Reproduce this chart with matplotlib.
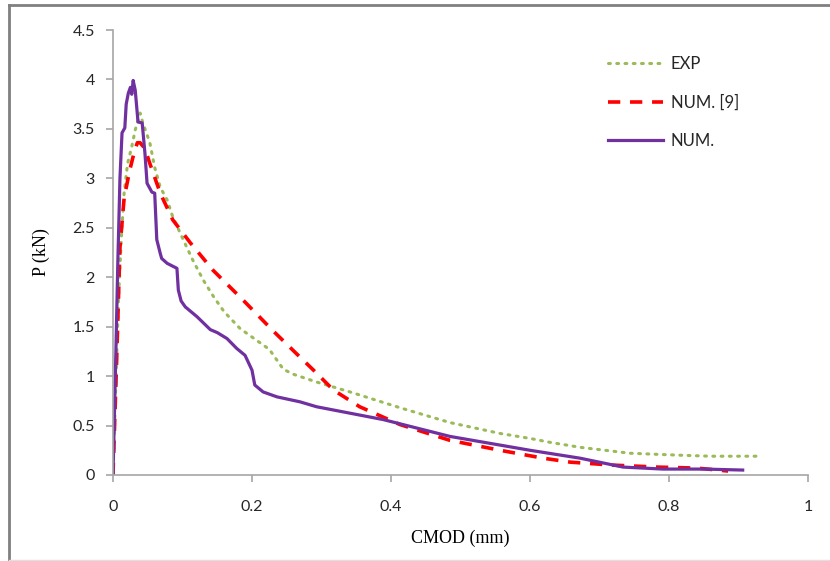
import matplotlib
matplotlib.use("Agg")
import matplotlib.pyplot as plt
from matplotlib.lines import Line2D

# EXP (green dotted)
exp_x = [0.0, 0.004, 0.008, 0.012, 0.016, 0.021, 0.027, 0.032, 0.039, 0.043, 0.053, 0.060, 0.068,
         0.078, 0.086, 0.101, 0.115, 0.130, 0.145, 0.160, 0.183, 0.205, 0.225, 0.236, 0.245, 0.259,
         0.293, 0.341, 0.413, 0.485, 0.557, 0.600, 0.629, 0.672, 0.744, 0.816, 0.860, 0.927]
exp_y = [0.0, 0.9, 1.8, 2.4, 2.85, 3.15, 3.32, 3.49, 3.66, 3.56, 3.36, 3.11, 2.91,
         2.78, 2.61, 2.38, 2.17, 1.97, 1.80, 1.65, 1.48, 1.37, 1.27, 1.16, 1.07, 1.02,
         0.94, 0.84, 0.68, 0.53, 0.42, 0.37, 0.33, 0.28, 0.22, 0.20, 0.19, 0.19]

# NUM. [9] (red dashed)
num9_x = [0.0, 0.005, 0.010, 0.016, 0.024, 0.030, 0.035, 0.039, 0.046, 0.053, 0.068, 0.086, 0.111,
          0.144, 0.187, 0.230, 0.265, 0.290, 0.317, 0.355, 0.413, 0.485, 0.557, 0.619, 0.658,
          0.719, 0.783, 0.840, 0.885]
num9_y = [0.0, 1.1, 2.3, 2.8, 3.08, 3.25, 3.36, 3.36, 3.30, 3.15, 2.85, 2.58, 2.35,
          2.07, 1.77, 1.46, 1.22, 1.05, 0.86, 0.69, 0.51, 0.35, 0.25, 0.17, 0.13,
          0.10, 0.08, 0.07, 0.04]

# NUM. (purple solid)
num_x = [0.0, 0.004, 0.007, 0.010, 0.013, 0.017, 0.019, 0.022, 0.025, 0.027, 0.029, 0.032, 0.036,
         0.042, 0.046, 0.049, 0.056, 0.060, 0.063, 0.068, 0.070, 0.078, 0.092, 0.094, 0.098,
         0.104, 0.121, 0.140, 0.150, 0.164, 0.178, 0.190, 0.200, 0.204, 0.216, 0.236, 0.269,
         0.293, 0.389, 0.485, 0.600, 0.672, 0.734, 0.791, 0.850, 0.906]
num_y = [0.0, 1.2, 2.17, 3.0, 3.46, 3.51, 3.75, 3.86, 3.92, 3.85, 3.99, 3.89, 3.57,
         3.56, 3.25, 2.95, 2.86, 2.85, 2.38, 2.24, 2.19, 2.14, 2.09, 1.87, 1.76,
         1.70, 1.60, 1.47, 1.44, 1.38, 1.28, 1.21, 1.06, 0.91, 0.84, 0.79, 0.74,
         0.69, 0.56, 0.39, 0.25, 0.17, 0.08, 0.06, 0.06, 0.05]

x_ticks = [0, 0.2, 0.4, 0.6, 0.8, 1]
x_tick_labels = ["0", "0.2", "0.4", "0.6", "0.8", "1"]
y_ticks = [0, 0.5, 1, 1.5, 2, 2.5, 3, 3.5, 4, 4.5]
y_tick_labels = ["0", "0.5", "1", "1.5", "2", "2.5", "3", "3.5", "4", "4.5"]

fig = plt.figure(figsize=(8.3, 5.61), dpi=100)
ax = fig.add_axes([113/830, 1-475/561, (808-113)/830, (475-30)/561])

ax.plot(exp_x, exp_y, color="#9BBB59", lw=2.2, linestyle=(0, (0.6, 2.1)), dash_capstyle="round", label="EXP")
ax.plot(num9_x, num9_y, color="#FF0000", lw=2.6, linestyle=(0, (3.4, 2.7)), label="NUM. [9]")
ax.plot(num_x, num_y, color="#7030A0", lw=2.3, label="NUM.")

ax.set_xlim(0, 1)
ax.set_ylim(0, 4.5)
ax.set_xticks(x_ticks)
ax.set_xticklabels(x_tick_labels)
ax.set_yticks(y_ticks)
ax.set_yticklabels(y_tick_labels)

for s in ["top", "right"]:
    ax.spines[s].set_visible(False)
for s in ["left", "bottom"]:
    ax.spines[s].set_color("#A6A6A6")
    ax.spines[s].set_linewidth(1.2)
ax.tick_params(axis="both", direction="out", length=5, width=1.2, color="#A6A6A6",
               labelsize=11.5, labelcolor="#262626")
for lab in ax.get_xticklabels() + ax.get_yticklabels():
    lab.set_family("Lato")
ax.tick_params(axis="x", pad=13)
ax.tick_params(axis="y", pad=8)

ax.set_xlabel("CMOD (mm)", family="Liberation Serif", fontsize=13, labelpad=11)
ax.set_ylabel("P (kN)", family="Liberation Serif", fontsize=13, labelpad=16)

leg = ax.legend(loc="upper left", bbox_to_anchor=(0.69, 0.976), frameon=False,
                prop={"family": "Lato", "size": 12}, handlelength=3.3, labelspacing=1.35,
                handletextpad=0.5)
for t in leg.get_texts():
    t.set_color("#262626")

# outer frame (left and top dark, bottom faint)
fig.add_artist(Line2D([9/830, 9/830], [1 - 5/561, 1 - 560/561], transform=fig.transFigure,
                      color="#808080", lw=2))
fig.add_artist(Line2D([9/830, 1.0], [1 - 5/561, 1 - 5/561], transform=fig.transFigure,
                      color="#808080", lw=2))
fig.add_artist(Line2D([9/830, 1.0], [1 - 559.5/561, 1 - 559.5/561], transform=fig.transFigure,
                      color="#E0E0E0", lw=1))

fig.savefig("out.png", dpi=100)
